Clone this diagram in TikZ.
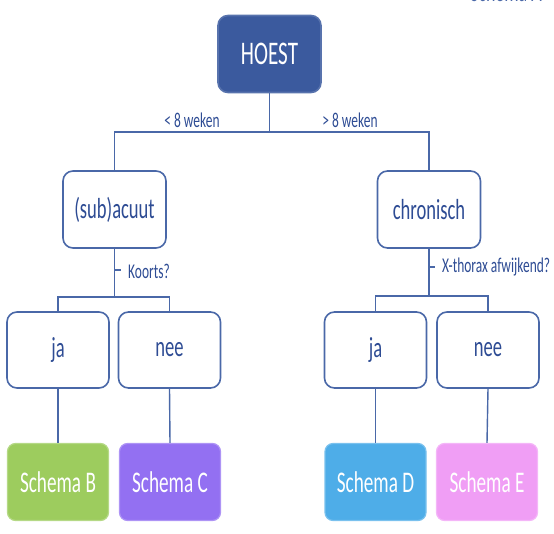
\documentclass[tikz,border=0pt]{standalone}
\usepackage{fontspec}
\setmainfont[FakeStretch=0.64]{Carlito}
\definecolor{lineblue}{HTML}{4A68A8}
\definecolor{txtblue}{HTML}{2E4C94}
\definecolor{hoestfill}{HTML}{3B5A9E}
\definecolor{gfill}{HTML}{9DCC5E}
\definecolor{pfill}{HTML}{9370F2}
\definecolor{bfill}{HTML}{4EADE8}
\definecolor{kfill}{HTML}{F09EF5}
\tikzset{
  wbox/.style={draw=lineblue, line width=1.6pt, rounded corners=10pt, fill=white,
    minimum width=102pt, minimum height=76pt, inner sep=0pt, text=txtblue,
    font=\fontsize{29}{31}\selectfont},
  cbox/.style={draw=#1!75!white, line width=1.2pt, rounded corners=8pt, fill=#1,
    minimum width=101pt, minimum height=77pt, inner sep=0pt, text=white,
    font=\fontsize{30}{32}\selectfont},
  conn/.style={draw=lineblue, line width=1.4pt},
  lbl/.style={text=txtblue, inner sep=0pt, font=\fontsize{21}{23}\selectfont}
}
\begin{document}
\begin{tikzpicture}[x=1pt,y=-1pt]
\useasboundingbox (0,0) rectangle (554,534);
\node[text=lineblue, anchor=base, inner sep=0pt, font=\fontsize{28}{30}\selectfont] (sA) at (506,2) {Schema A};
\node[wbox, draw=hoestfill!85!white, fill=hoestfill, text=white, minimum width=103pt, minimum height=77pt,
  font=\fontsize{33}{35}\selectfont] (hoest) at (269.5,54) {HOEST};
\node[wbox, minimum width=103pt, minimum height=77pt] (sub) at (114.5,209.5) {(sub)acuut};
\node[wbox, minimum width=103pt, minimum height=77pt] (chron) at (429,209.5) {chronisch};
\node[wbox] (ja1) at (58,350) {ja};
\node[wbox] (nee1) at (169.5,350) {nee};
\node[wbox] (ja2) at (375.5,350) {ja};
\node[wbox] (nee2) at (488,350) {nee};
\node[cbox=gfill] (sB) at (58,482) {Schema B};
\node[cbox=pfill] (sC) at (170,482) {Schema C};
\node[cbox=bfill] (sD) at (375.5,482) {Schema D};
\node[cbox=kfill] (sE) at (487,482) {Schema E};
% top junction
\coordinate (j1) at (269.5,132);
\draw[conn] (hoest.south) -- (j1);
\draw[conn] (sub.north) -- (sub.north |- j1) -- (chron.north |- j1) -- (chron.north);
\node[lbl] (l1) at (192,120) {< 8 weken};
\node[lbl] (l2) at (350,120) {> 8 weken};
% left branch
\coordinate (k1) at (114.5,297);
\coordinate (t1) at (114.5,270);
\draw[conn] (sub.south) -- (k1);
\draw[conn] (ja1.north) -- (ja1.north |- k1) -- (nee1.north |- k1) -- (nee1.north);
\draw[conn] (t1) -- ++(6,0);
\node[lbl, anchor=west] (koorts) at (128,271) {Koorts?};
% right branch
\coordinate (k2) at (429,296);
\coordinate (t2) at (429,267);
\draw[conn] (chron.south) -- (k2);
\draw[conn] (ja2.north) -- (ja2.north |- k2) -- (nee2.north |- k2) -- (nee2.north);
\draw[conn] (t2) -- ++(6,0);
\node[lbl, anchor=west] (xth) at (442,267) {X-thorax afwijkend?};
% to schemas
\draw[conn] (ja1.south) -- (sB.north);
\draw[conn] (nee1.south) -- (sC.north);
\draw[conn] (ja2.south) -- (sD.north);
\draw[conn] (nee2.south) -- (sE.north);
\end{tikzpicture}
\end{document}
